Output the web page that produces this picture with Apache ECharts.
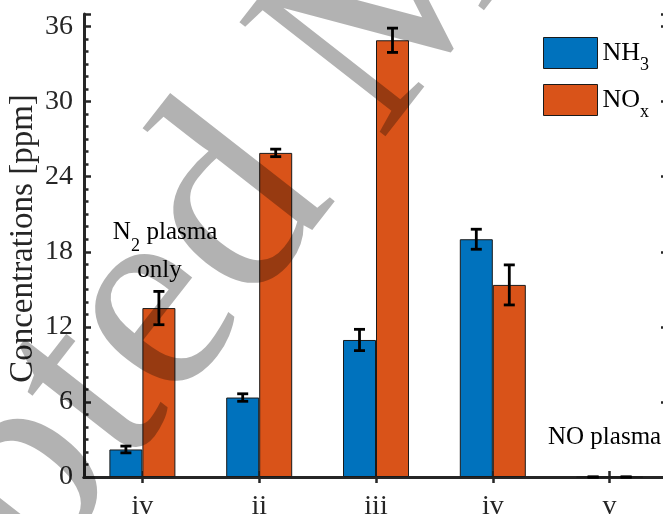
<!DOCTYPE html>
<html><head><meta charset="utf-8">
<script src="https://cdn.jsdelivr.net/npm/echarts@6/dist/echarts.min.js"></script>
<style>html,body{margin:0;padding:0;background:#fff}#c{width:663px;height:514px}</style>
</head><body><div id="c"></div>
<script>
// ---- data ----
const categories = ['iv', 'ii', 'iii', 'iv', 'v'];
const nh3 = [2.2, 6.35, 10.95, 19.0, 0];
const nh3Err = [0.27, 0.3, 0.85, 0.8, 0];
const nox = [13.5, 25.9, 34.9, 15.35, 0];
const noxErr = [1.33, 0.3, 0.97, 1.6, 0];
const yMajor = 6, yMinor = 1, yMin = 0, yMax = 37;

const FONT = "'Liberation Serif','Times New Roman',serif";
const AX = '#262626';
const BAR_W = 33;
const chart = echarts.init(document.getElementById('c'), null, {renderer: 'canvas'});

function errSeries(name, vals, errs, side) {
  return {
    name: name + '_err', type: 'custom', xAxisIndex: 0, yAxisIndex: 0, z: 5,
    data: vals.map((v, i) => [i, v, errs[i]]),
    renderItem(params, api) {
      const i = api.value(0), v = api.value(1), e = api.value(2);
      const hi = api.coord([i, v + e]), lo = api.coord([i, v - e]);
      const x = hi[0] + side * BAR_W / 2, cw = 5.5;
      const st = {stroke: '#000', lineWidth: 2.8};
      return {type: 'group', children: [
        {type: 'line', shape: {x1: x, y1: hi[1], x2: x, y2: lo[1]}, style: st},
        {type: 'line', shape: {x1: x - cw, y1: hi[1], x2: x + cw, y2: hi[1]}, style: st},
        {type: 'line', shape: {x1: x - cw, y1: lo[1], x2: x + cw, y2: lo[1]}, style: st}
      ]};
    }
  };
}

const catData = categories.map((c, i) => String(i));
function yAx(pos, interval, len, showLine, showLabel) {
  return {
    type: 'value', position: pos, min: yMin, max: yMax, interval: interval,
    axisLine: {show: showLine, lineStyle: {color: AX, width: 3}},
    axisTick: {show: true, inside: true, length: len, lineStyle: {color: AX, width: 2.5}},
    axisLabel: {show: showLabel, fontFamily: FONT, fontSize: 28, color: AX, margin: 11,
      formatter: v => (v % yMajor === 0 ? String(v) : '')},
    splitLine: {show: false}
  };
}
const yAxes = [yAx('left', yMajor, 7, true, true), yAx('left', yMinor, 4.5, false, false),
               yAx('right', yMajor, 7, true, false), yAx('right', yMinor, 4.5, false, false)];
yAxes[0].name = 'Concentrations [ppm]';
yAxes[0].nameLocation = 'middle';
yAxes[0].nameGap = 44;
yAxes[0].nameMoveOverlap = false;
yAxes[0].nameTextStyle = {fontFamily: FONT, fontSize: 33, color: AX, padding: [0, 0, 0, 14]};

function xAx(pos, showLabel) {
  return {
    type: 'category', position: pos, data: catData,
    axisLine: {show: true, lineStyle: {color: AX, width: 3}},
    axisTick: {show: true, inside: true, alignWithLabel: true, length: 6, lineStyle: {color: AX, width: 2.5}},
    axisLabel: {show: showLabel, fontFamily: FONT, fontSize: 28, color: AX, margin: 16,
      interval: 0, formatter: (v, i) => categories[i]},
    splitLine: {show: false}
  };
}

const ang = 52 * Math.PI / 180;
const option = {
  animation: false,
  backgroundColor: '#fff',
  grid: {left: 84, top: 14, width: 584, height: 463, containLabel: false, outerBoundsMode: 'none'},
  xAxis: [xAx('bottom', true), xAx('top', false)],
  yAxis: yAxes,
  legend: {
    orient: 'vertical', left: 538, top: 32, itemWidth: 54, itemHeight: 31, itemGap: 10,
    icon: 'rect', selectedMode: false, data: ['NH3', 'NOx'],
    itemStyle: {borderColor: '#1a1a1a', borderWidth: 1},
    formatter: n => (n === 'NH3' ? '{m|NH}{s|3}' : '{m|NO}{s|x}'),
    textStyle: {rich: {
      m: {fontFamily: FONT, fontSize: 26, color: '#000', lineHeight: 26, verticalAlign: 'top'},
      s: {fontFamily: FONT, fontSize: 18, color: '#000', lineHeight: 18, verticalAlign: 'top', padding: [16, 0, 0, 0]}
    }}
  },
  series: [
    {name: 'NH3', type: 'bar', data: nh3, barWidth: BAR_W, barGap: '0%', z: 2,
      itemStyle: {color: '#0072BD', borderColor: '#1a1a1a', borderWidth: 1}},
    {name: 'NOx', type: 'bar', data: nox, barWidth: BAR_W, barGap: '0%', z: 2,
      itemStyle: {color: '#D95319', borderColor: '#1a1a1a', borderWidth: 1}},
    errSeries('NH3', nh3, nh3Err, -1),
    errSeries('NOx', nox, noxErr, 1)
  ],
  graphic: [
    {type: 'text', x: 112.7, y: 232, z: 50, style: {text: 'N', font: '25px ' + FONT, fill: '#000', textAlign: 'left', textVerticalAlign: 'middle', align: 'left', verticalAlign: 'middle'}},
    {type: 'text', x: 131, y: 246, z: 50, style: {text: '2', font: '18px ' + FONT, fill: '#000', textAlign: 'left', textVerticalAlign: 'middle', align: 'left', verticalAlign: 'middle'}},
    {type: 'text', x: 146.5, y: 232, z: 50, style: {text: 'plasma', font: '25px ' + FONT, fill: '#000', textAlign: 'left', textVerticalAlign: 'middle', align: 'left', verticalAlign: 'middle'}},
    {type: 'text', x: 159.5, y: 270, z: 50, style: {text: 'only', font: '25px ' + FONT, fill: '#000', textAlign: 'center', textVerticalAlign: 'middle', align: 'center', verticalAlign: 'middle'}},
    {type: 'text', x: 548, y: 437.5, z: 50, style: {text: 'NO plasma', font: '25px ' + FONT, fill: '#000', textAlign: 'left', textVerticalAlign: 'middle', align: 'left', verticalAlign: 'middle'}},
    {type: 'text', x: -379.5, y: 994.6, rotation: ang, z: 100, silent: true,
      style: {text: 'Accepted Manuscript', font: '283px ' + FONT, fill: 'rgba(0,0,0,0.3)', textAlign: 'left', textVerticalAlign: 'middle', align: 'left', verticalAlign: 'middle'}}
  ]
};
chart.setOption(option);
</script></body></html>
